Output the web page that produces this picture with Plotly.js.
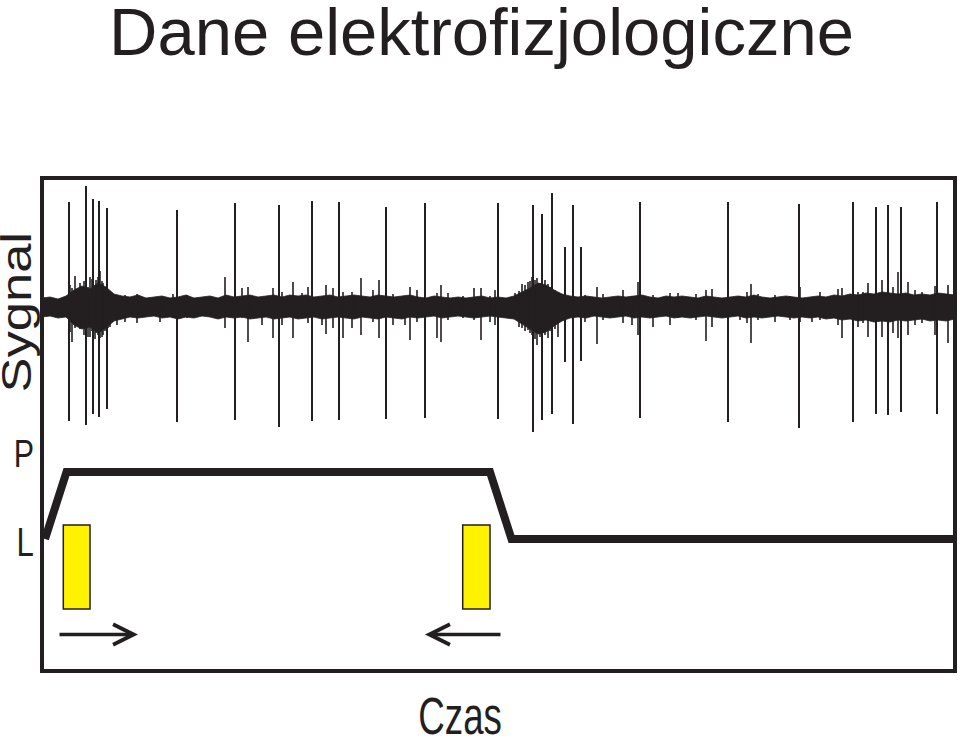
<!DOCTYPE html>
<html><head><meta charset="utf-8">
<script src="https://cdn.plot.ly/plotly-3.0.1.min.js"></script>
<style>html,body{margin:0;padding:0;background:#fff}#chart{width:960px;height:739px}</style>
</head><body><div id="chart"></div>
<script>
// ---- DATA (time in arbitrary units; signal relative to baseline, arbitrary units) ----
// large action potentials
const spikeTimes   = [27, 44, 51, 57, 65, 135, 193, 237, 270, 297, 344, 383, 456, 491, 500, 510, 523, 531, 539, 598, 686, 757, 811, 834, 846, 859, 895];
const spikeTops    = [105, 121, 108, 106, 99, 97, 104, 102, 106, 105, 100, 104, 104, 102, 93, 114, 60, 102, 60, 105, 105, 103, 105, 100, 102, 100, 105];
const spikeBottoms = [-114, -118, -107, -110, -102, -115, -113, -120, -114, -113, -112, -111, -112, -125, -113, -107, -55, -117, -54, -111, -115, -121, -115, -107, -108, -105, -107];

// small deflections sticking out of the noise
const smallTimes   = [28, 30, 33, 36, 38, 42, 46, 48, 50, 53, 54, 56, 58, 60, 61, 63, 66, 68, 75, 83, 95, 118, 131, 145, 183, 200, 206, 220, 231, 240, 251, 260, 266, 280, 284, 291, 301, 310, 319, 331, 337, 351, 363, 368, 375, 395, 399, 406, 421, 432, 439, 448, 453, 473, 477, 480, 483, 486, 488, 490, 493, 495, 498, 501, 503, 506, 508, 513, 516, 543, 555, 561, 581, 590, 596, 611, 628, 636, 654, 664, 670, 698, 705, 709, 716, 733, 748, 758, 770, 778, 796, 800, 816, 821, 826, 840, 851, 856, 866, 873, 880, 893, 906];
const smallTops    = [22, 19, 31, 19, 24, 26, 20, 30, 28, 22, 27, 30, 36, 26, 24, 18, 15, 16, 11, 12, 13, 9, 13, 12, 30, 19, 20, 7, 19, 15, 25, 14, 20, 10, 22, 19, 15, 15, 29, 17, 27, 13, 11, 20, 17, 14, 22, 14, 11, 19, 19, 11, 17, 14, 16, 23, 22, 25, 26, 30, 27, 29, 24, 22, 27, 23, 20, 17, 15, 12, 20, 13, 17, 11, 25, 12, 14, 14, 13, 17, 18, 11, 15, 23, 13, 12, 11, 20, 10, 15, 18, 19, 15, 15, 24, 27, 20, 35, 25, 17, 15, 21, 22];
const smallBottoms = [-25, -35, -21, -20, -22, -28, -30, -30, -24, -32, -26, -28, -31, -30, -28, -24, -21, -20, -18, -15, -16, -15, -11, -11, -21, -11, -35, -18, -31, -18, -31, -11, -16, -18, -27, -21, -31, -21, -28, -15, -31, -18, -18, -33, -15, -31, -35, -13, -11, -13, -33, -15, -18, -11, -20, -21, -24, -23, -26, -28, -32, -38, -30, -26, -28, -31, -24, -22, -30, -15, -37, -13, -16, -18, -28, -20, -18, -11, -13, -34, -20, -13, -16, -36, -13, -15, -13, -15, -15, -13, -18, -31, -20, -16, -30, -30, -26, -31, -28, -18, -16, -28, -36];

// dense background noise envelope (sampled every 8 time units)
const bandTimes = [0, 8, 16, 24, 32, 40, 48, 56, 64, 72, 80, 88, 96, 104, 112, 120, 128, 136, 144, 152, 160, 168, 176, 184, 192, 200, 208, 216, 224, 232, 240, 248, 256, 264, 272, 280, 288, 296, 304, 312, 320, 328, 336, 344, 352, 360, 368, 376, 384, 392, 400, 408, 416, 424, 432, 440, 448, 456, 464, 472, 480, 488, 496, 504, 512, 520, 528, 536, 544, 552, 560, 568, 576, 584, 592, 600, 608, 616, 624, 632, 640, 648, 656, 664, 672, 680, 688, 696, 704, 712, 720, 728, 736, 744, 752, 760, 768, 776, 784, 792, 800, 808, 816, 824, 832, 840, 848, 856, 864, 872, 880, 888, 896, 904, 913];
const bandUpper = [9, 10, 8, 11, 17, 21, 18, 24, 20, 13, 11, 10, 12, 9, 10, 11, 9, 10, 12, 9, 10, 11, 9, 12, 10, 11, 12, 10, 11, 12, 10, 12, 11, 12, 10, 11, 12, 10, 11, 12, 11, 10, 12, 11, 10, 11, 12, 10, 9, 11, 10, 9, 10, 9, 10, 11, 9, 10, 9, 11, 15, 19, 24, 22, 17, 13, 11, 10, 11, 10, 9, 10, 11, 10, 11, 12, 10, 9, 11, 10, 11, 10, 9, 11, 10, 9, 10, 11, 10, 12, 10, 9, 10, 11, 10, 9, 10, 11, 10, 12, 11, 13, 12, 14, 13, 15, 14, 13, 14, 12, 13, 12, 14, 13, 12];
const bandLower = [-10, -9, -11, -10, -18, -22, -20, -26, -21, -14, -12, -10, -11, -10, -9, -11, -10, -12, -10, -11, -9, -10, -12, -10, -11, -10, -12, -11, -10, -12, -11, -10, -12, -11, -10, -12, -11, -10, -11, -12, -10, -11, -12, -10, -11, -12, -10, -11, -10, -9, -11, -10, -9, -10, -11, -10, -9, -10, -11, -12, -17, -22, -27, -25, -19, -14, -11, -10, -11, -9, -10, -11, -10, -9, -11, -10, -11, -10, -9, -11, -10, -11, -10, -9, -10, -11, -10, -9, -11, -10, -11, -10, -9, -10, -11, -10, -11, -10, -12, -11, -13, -12, -14, -13, -15, -14, -15, -13, -14, -13, -12, -14, -13, -14, -12];

// position trace (0 = L, 1 = P)
const posTimes  = [3, 24.5, 448, 469.5, 913];
const posLevels = [0, 1, 1, 0, 0];
const posLabels = ['L', 'P'];

// stimulus bars and movement arrows
const stimStart = [21.3, 420.7];
const stimEnd   = [48, 448];
const moveFrom  = [16, 460];
const moveTo    = [96, 383];

// ---- BUILD ----
const INK = '#231f20';
function segments(ts, tops, bots) {
  const x = [], y = [];
  ts.forEach((t, i) => { x.push(t, t, null); y.push(tops[i], bots[i], null); });
  return {x, y};
}
const big = segments(spikeTimes, spikeTops, spikeBottoms);
const small = segments(smallTimes, smallTops, smallBottoms);

const traces = [
  {x: bandTimes.concat(bandTimes.slice().reverse()),
   y: bandUpper.concat(bandLower.slice().reverse()),
   mode: 'lines', fill: 'toself', fillcolor: INK, line: {width: 0.8, color: INK},
   hoverinfo: 'skip', xaxis: 'x', yaxis: 'y'},
  {x: small.x, y: small.y, mode: 'lines', line: {width: 1.6, color: INK}, xaxis: 'x', yaxis: 'y', hoverinfo: 'skip'},
  {x: big.x, y: big.y, mode: 'lines', line: {width: 2, color: INK}, xaxis: 'x', yaxis: 'y', hoverinfo: 'skip'},
  {x: posTimes, y: posLevels, mode: 'lines', line: {width: 8, color: INK}, xaxis: 'x', yaxis: 'y2', hoverinfo: 'skip'}
];

const shapes = [
  {type: 'rect', xref: 'paper', yref: 'paper', x0: 0, x1: 1, y0: 0, y1: 1, line: {width: 4, color: INK}, fillcolor: 'rgba(0,0,0,0)', layer: 'above'}
];
stimStart.forEach((s, i) => shapes.push({
  type: 'rect', xref: 'x', yref: 'y2', x0: s, x1: stimEnd[i], y0: -1.045, y1: 0.209,
  fillcolor: '#fff200', line: {width: 1.5, color: INK}, layer: 'above'
}));

const sans = 'Liberation Sans, Arial, sans-serif';
const annotations = [
  {text: 'Sygnal', xref: 'paper', yref: 'paper', x: -0.0269, y: 0.7282, textangle: -90,
   showarrow: false, xanchor: 'center', yanchor: 'middle',
   font: {family: sans, size: 42, color: INK}},
  {text: 'Czas', xref: 'paper', yref: 'paper', x: 0.4578, y: -0.0923, showarrow: false,
   xanchor: 'center', yanchor: 'middle', font: {family: sans, size: 51, color: INK}},
  {text: posLabels[1], xref: 'paper', yref: 'y2', x: -0.01917, y: 1.269, showarrow: false,
   xanchor: 'center', yanchor: 'middle', font: {family: sans, size: 39, color: INK}},
  {text: posLabels[0], xref: 'paper', yref: 'y2', x: -0.0181, y: -0.045, showarrow: false,
   xanchor: 'center', yanchor: 'middle', font: {family: sans, size: 40, color: INK}}
];
moveFrom.forEach((f, i) => annotations.push({
  x: moveTo[i], y: -1.425, ax: f, ay: -1.425, xref: 'x', yref: 'y2', axref: 'x', ayref: 'y2',
  text: '', showarrow: true, arrowhead: 5, arrowsize: 1.15, arrowwidth: 3.5, arrowcolor: INK
}));

const layout = {
  width: 960, height: 739,
  margin: {l: 42, r: 5, t: 178, b: 68, pad: 0},
  paper_bgcolor: '#ffffff', plot_bgcolor: '#ffffff',
  showlegend: false,
  title: {text: 'Dane elektrofizjologiczne', xref: 'container', yref: 'container', x: 0.5016, y: 0.957,
          xanchor: 'center', yanchor: 'middle',
          font: {family: sans, size: 67, color: INK}},
  xaxis: {range: [0, 913], visible: false, fixedrange: true},
  yaxis: {domain: [0.46856, 1], range: [-133, 129], visible: false, fixedrange: true},
  yaxis2: {domain: [0, 0.46856], range: [-1.970, 1.4776], visible: false, fixedrange: true},
  shapes: shapes,
  annotations: annotations
};

// horizontal stretch of the label glyphs (the original lettering is not in a standard width)
const stretch = {0: 1.25, 1: 0.72, 2: 0.78, 3: 0.78};
Plotly.newPlot('chart', traces, layout, {staticPlot: true, displayModeBar: false}).then(gd => {
  Object.keys(stretch).forEach(k => {
    const t = gd.querySelector('.annotation[data-index="' + k + '"] text.annotation-text');
    if (t) {
      t.style.transformBox = 'fill-box';
      t.style.transformOrigin = 'center';
      t.style.transform = 'scaleX(' + stretch[k] + ')';
    }
  });
});
</script>
</body></html>
